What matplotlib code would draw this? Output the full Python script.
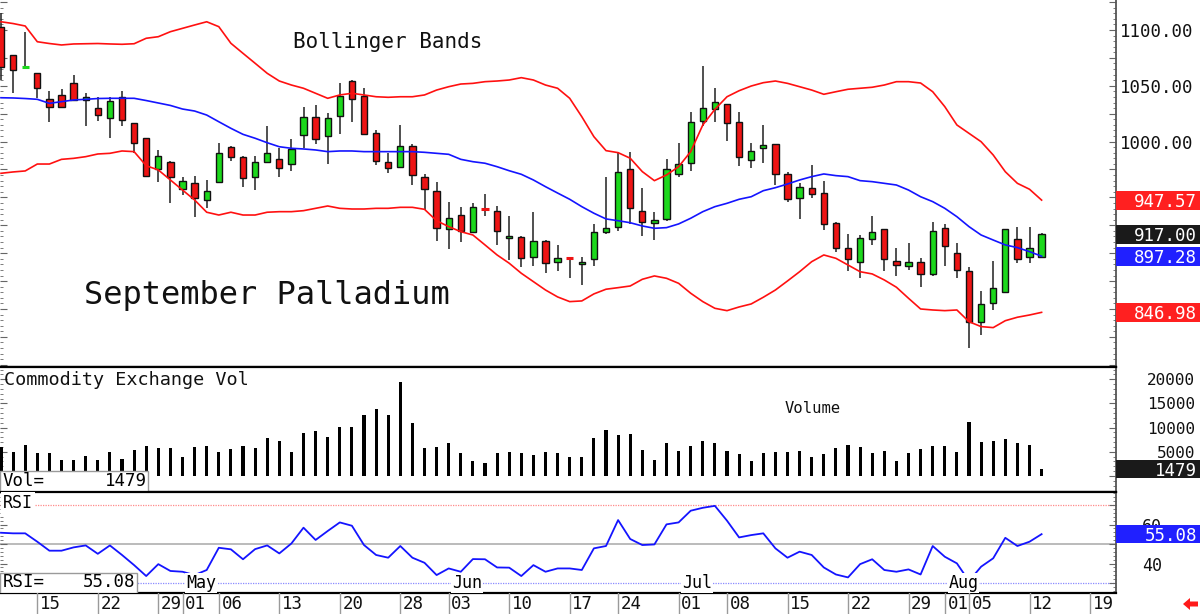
import numpy as np
import pandas as pd
import matplotlib
matplotlib.use("Agg")
import matplotlib.pyplot as plt
from matplotlib.patches import Rectangle, Polygon
from matplotlib.ticker import MultipleLocator

# ---------------- data (September Palladium, daily) ----------------
first_day = "2024-04-10"
last_axis_day = "2024-08-19"
holidays = ["2024-05-27", "2024-06-19", "2024-07-04"]

opens = [1102.7, 1077.6, 1066.0, 1061.2, 1037.9, 1041.5, 1052.2, 1037.3, 1029.8, 1020.9,
         1040.2, 1016.9, 1003.0, 975.2, 982.0, 957.3, 963.2, 947.7, 963.5, 995.4,
         986.5, 968.5, 981.5, 984.7, 979.7, 1005.9, 1021.8, 1005.0, 1022.9, 1054.3,
         1041.1, 1008.0, 982.0, 977.5, 996.0, 968.0, 956.0, 921.4, 934.2, 919.3,
         940.0, 938.1, 913.4, 914.8, 896.3, 910.9, 892.4, 896.0, 890.0, 894.5,
         919.3, 923.2, 975.2, 938.1, 926.7, 930.4, 971.0, 980.6, 1018.5, 1029.0,
         1033.4, 1017.3, 983.5, 994.0, 997.6, 971.0, 949.2, 958.2, 953.7, 926.8,
         905.0, 892.4, 912.7, 921.4, 893.3, 888.8, 892.4, 881.0, 922.3, 900.5,
         884.3, 838.0, 855.0, 865.0, 912.5, 897.0, 897.0]
highs = [1115.0, 1077.6, 1097.9, 1061.5, 1045.6, 1046.9, 1059.7, 1043.3, 1039.7, 1040.2,
         1045.6, 1017.0, 1003.5, 992.5, 982.5, 968.0, 969.4, 965.6, 998.5, 996.0,
         987.0, 987.1, 1014.0, 994.0, 1002.0, 1030.7, 1032.8, 1025.4, 1052.2, 1055.2,
         1047.8, 1010.0, 989.5, 1014.9, 997.8, 971.0, 964.0, 946.0, 941.7, 945.3,
         953.0, 942.6, 933.3, 915.0, 937.2, 911.5, 907.3, 896.5, 897.0, 926.0,
         968.5, 990.4, 990.4, 958.7, 936.7, 984.0, 998.5, 1026.3, 1068.0, 1047.8,
         1034.0, 1026.3, 999.0, 1014.9, 998.0, 973.0, 962.6, 979.0, 964.7, 928.3,
         917.2, 916.3, 933.3, 922.0, 905.0, 908.8, 895.4, 928.3, 925.9, 908.8,
         887.9, 866.0, 893.0, 922.0, 923.8, 923.2, 918.0]
lows = [1055.0, 1043.5, 1066.0, 1038.8, 1017.8, 1030.0, 1037.0, 1014.0, 1018.7, 1003.0,
        1014.0, 989.5, 968.0, 964.0, 945.3, 952.2, 932.7, 940.2, 963.0, 982.6,
        959.6, 956.6, 981.0, 968.5, 974.0, 994.0, 997.8, 980.0, 1006.8, 1017.8,
        1006.0, 979.0, 971.6, 977.0, 961.1, 938.7, 911.2, 903.5, 910.3, 918.0,
        933.0, 907.3, 894.0, 887.9, 888.8, 882.0, 884.3, 877.5, 871.5, 888.8,
        917.0, 920.0, 926.0, 915.7, 911.8, 929.0, 968.0, 974.0, 1014.0, 1017.3,
        1000.8, 978.4, 976.0, 981.0, 961.1, 946.0, 930.4, 949.2, 920.8, 900.8,
        884.3, 877.5, 907.3, 884.3, 879.6, 885.0, 869.4, 880.0, 888.5, 878.0,
        814.8, 826.7, 849.0, 864.0, 891.0, 891.5, 897.0]
closes = [1066.8, 1064.2, 1067.0, 1047.8, 1030.7, 1030.7, 1037.3, 1039.7, 1023.8, 1036.6,
          1019.4, 999.0, 969.2, 987.1, 968.5, 965.0, 949.2, 956.0, 990.0, 985.9,
          967.1, 982.0, 989.5, 976.7, 993.1, 1022.3, 1002.0, 1020.9, 1041.1, 1038.2,
          1006.8, 982.9, 976.0, 996.0, 970.0, 957.5, 922.3, 931.3, 920.2, 941.1,
          939.5, 919.9, 915.7, 895.4, 910.9, 891.5, 895.4, 895.5, 892.4, 918.7,
          922.3, 973.0, 940.2, 928.3, 929.7, 975.2, 980.0, 1017.3, 1029.8, 1035.2,
          1016.4, 985.9, 991.9, 997.0, 971.0, 948.6, 959.0, 953.0, 925.9, 904.4,
          894.5, 913.4, 918.7, 894.5, 889.4, 891.8, 881.0, 920.2, 906.5, 885.0,
          838.0, 854.2, 868.5, 921.7, 894.8, 904.4, 917.0]

bb_upper = [1107.4, 1105.8, 1103.6, 1089.5, 1087.9, 1086.6, 1087.5, 1087.7, 1087.9, 1087.5,
            1087.2, 1087.7, 1092.6, 1094.0, 1098.5, 1101.5, 1104.5, 1107.4, 1103.0, 1088.1,
            1079.1, 1070.2, 1061.2, 1054.3, 1050.7, 1047.8, 1043.3, 1038.8, 1041.8, 1043.3,
            1041.8, 1040.2, 1039.7, 1040.2, 1040.2, 1041.8, 1046.2, 1049.2, 1051.6, 1052.2,
            1053.7, 1054.3, 1055.2, 1057.3, 1055.2, 1050.7, 1047.8, 1038.8, 1022.3, 1004.4,
            991.9, 990.1, 985.1, 973.1, 965.0, 970.1, 977.5, 991.0, 1014.9, 1028.9,
            1040.2, 1045.6, 1049.8, 1052.8, 1054.3, 1052.2, 1049.2, 1046.2, 1042.4, 1044.7,
            1046.9, 1047.8, 1048.7, 1050.7, 1053.7, 1053.7, 1052.5, 1044.7, 1031.3, 1014.9,
            1007.4, 999.9, 988.0, 973.0, 962.6, 957.3, 947.57]
bb_middle = [1039.3, 1039.1, 1038.6, 1037.9, 1034.3, 1035.8, 1037.3, 1037.9, 1038.6, 1038.8,
             1038.8, 1038.8, 1036.8, 1034.6, 1032.4, 1029.2, 1027.4, 1023.8, 1017.8, 1011.9,
             1006.5, 1003.0, 999.0, 995.4, 994.0, 993.4, 992.5, 991.0, 991.6, 991.6,
             991.0, 991.0, 991.0, 991.0, 991.0, 990.4, 989.5, 988.6, 984.1, 982.0,
             980.6, 977.5, 973.9, 970.7, 965.6, 959.6, 953.9, 948.3, 941.7, 935.8,
             930.7, 929.1, 927.3, 924.4, 922.3, 922.9, 926.2, 931.3, 937.2, 941.7,
             944.7, 948.3, 950.6, 956.0, 958.7, 962.0, 965.6, 968.6, 971.0, 969.5,
             968.6, 965.0, 964.1, 962.6, 961.1, 956.6, 950.6, 946.2, 940.2, 932.7,
             923.8, 916.3, 911.8, 907.4, 905.0, 901.4, 897.28]
bb_lower = [971.6, 972.8, 973.7, 979.9, 979.9, 984.1, 985.0, 986.5, 988.9, 989.5,
            991.6, 991.0, 978.4, 974.6, 965.6, 956.6, 947.7, 936.7, 934.2, 936.7,
            934.2, 934.2, 936.7, 937.2, 937.2, 938.1, 940.2, 942.3, 940.2, 939.6,
            939.6, 940.2, 940.2, 941.1, 941.1, 939.3, 929.1, 923.8, 919.3, 916.3,
            907.4, 898.4, 891.0, 882.0, 874.5, 867.0, 860.8, 856.6, 857.2, 863.5,
            867.7, 869.1, 870.6, 876.6, 879.6, 877.5, 873.0, 864.1, 856.6, 850.6,
            848.5, 851.8, 854.5, 860.5, 867.0, 875.1, 883.4, 892.4, 898.4, 895.4,
            889.4, 883.4, 881.4, 876.0, 869.5, 859.6, 850.0, 849.1, 848.5, 849.1,
            838.6, 834.2, 833.3, 839.5, 842.6, 844.6, 846.98]

volume = [6050, 5000, 6400, 4700, 4700, 3400, 3300, 4100, 3300, 5000,
          3500, 5400, 6300, 5700, 5700, 4000, 6050, 6300, 5000, 5500,
          6300, 5700, 7900, 7300, 5000, 8800, 9200, 8100, 10200, 10100,
          12600, 13800, 12600, 19400, 10900, 5700, 6050, 6750, 4800, 3000,
          2600, 4700, 4900, 4700, 4300, 4900, 4800, 4000, 3900, 7900,
          9600, 8500, 8600, 5400, 3300, 6900, 5200, 6300, 7300, 6750,
          5200, 4500, 3100, 4700, 5000, 4900, 5200, 3900, 4500, 5700,
          6500, 5900, 4700, 5200, 3200, 4700, 5500, 6200, 6200, 4900,
          11100, 7100, 7300, 7600, 6750, 6500, 1479]

rsi = [55.8, 55.5, 55.5, 51.2, 46.6, 46.6, 48.3, 49.3, 45.0, 49.3,
       44.4, 39.2, 33.6, 39.7, 36.2, 35.8, 34.1, 36.7, 48.1, 47.3,
       42.2, 47.4, 49.3, 45.2, 50.3, 58.4, 52.1, 56.7, 61.1, 59.4,
       49.5, 44.4, 43.0, 49.0, 43.0, 40.4, 34.1, 37.5, 35.8, 42.3,
       42.2, 38.0, 37.9, 33.6, 39.2, 35.8, 37.5, 37.5, 36.7, 47.8,
       49.0, 62.3, 52.6, 49.5, 49.8, 60.1, 61.1, 67.1, 68.6, 69.6,
       62.0, 53.4, 54.6, 55.5, 47.8, 43.0, 46.1, 44.4, 38.0, 34.4,
       32.9, 39.7, 42.2, 36.7, 35.8, 37.0, 34.4, 49.0, 43.5, 40.1,
       31.0, 38.4, 42.7, 53.2, 49.0, 51.2, 55.08]

price_ticks = [1100, 1050, 1000]
volume_ticks = [5000, 10000, 15000, 20000]
rsi_ticks = [40, 60]
rsi_levels = [70, 50, 30]
month_names = ["Jan", "Feb", "Mar", "Apr", "May", "Jun", "Jul", "Aug", "Sep", "Oct", "Nov", "Dec"]

# ---------------- calendar axis ----------------
days = pd.bdate_range(first_day, last_axis_day)
days = days[~days.isin(pd.to_datetime(holidays))]
tick_pos, month_pos = [], []
for i in range(1, len(days)):
    d, p = days[i], days[i - 1]
    if d.isocalendar().week != p.isocalendar().week or d.month != p.month:
        tick_pos.append(i)
    if d.month != p.month:
        month_pos.append(i)
tick_labels = [days[i].strftime("%d") for i in tick_pos]

# ---------------- styling ----------------
MONO = "DejaVu Sans Mono"
GREEN, RED, BLUE = "#1cd81c", "#ee1414", "#1414ff"
W, H = 1200, 614
PANEL_W = 1116
STEP = 12.1

fig = plt.figure(figsize=(W / 100, H / 100), dpi=100)


def frac_box(left, top, width, height):
    return [left / W, 1 - (top + height) / H, width / W, height / H]


ax_p = fig.add_axes(frac_box(0, 0, PANEL_W, 367))
ax_v = fig.add_axes(frac_box(0, 367, PANEL_W, 125))
ax_r = fig.add_axes(frac_box(0, 492, PANEL_W, 101))
ax_d = fig.add_axes(frac_box(0, 593, PANEL_W, 21))
right_specs = [(0, 367), (367, 125), (492, 101)]
ax_pR, ax_vR, ax_rR = [fig.add_axes(frac_box(PANEL_W, t, W - PANEL_W, h)) for t, h in right_specs]

xlim = (-1 / STEP, (PANEL_W - 1) / STEP)
ax_p.set_ylim(798.0, 1126.9)
ax_v.set_ylim(-3306, 22521)
ax_r.set_ylim(24.9, 76.7)

for ax, maj, mnr in ((ax_p, 25, 5), (ax_v, 5000, 1000), (ax_r, 10, 2)):
    ax.set_xlim(xlim)
    ax.set_xticks([])
    ax.yaxis.set_major_locator(MultipleLocator(maj))
    ax.yaxis.set_minor_locator(MultipleLocator(mnr))
    ax.spines["left"].set_visible(False)
    ax.spines["right"].set_color("#555555")
    ax.spines["right"].set_linewidth(1.3)
    for s in ("top", "bottom"):
        ax.spines[s].set_color("black")
        ax.spines[s].set_linewidth(1.6)
    ax.tick_params(axis="y", which="both", direction="in", left=True, right=True,
                   labelleft=False, labelright=False, color="#666666")
    ax.tick_params(axis="y", which="major", length=5, width=0.8)
    ax.tick_params(axis="y", which="minor", length=2.5, width=0.6)
ax_p.spines["top"].set_visible(False)

# ---------------- price panel ----------------
n = len(closes)
x = np.arange(n)
ax_p.vlines(x, lows, highs, color="#202020", lw=1.1, zorder=2)
for i in range(n):
    o, c = opens[i], closes[i]
    col = GREEN if c >= o else RED
    if abs(c - o) < 1.2:
        ax_p.hlines((o + c) / 2, i - 0.3, i + 0.3, color=col, lw=2.2, zorder=3)
    else:
        ax_p.add_patch(Rectangle((i - 0.26, min(o, c)), 0.52, abs(c - o),
                                 facecolor=col, edgecolor="#111111", lw=1.0, zorder=3))
ax_p.plot(x, bb_upper, color="#ff1010", lw=1.2, zorder=4)
ax_p.plot(x, bb_lower, color="#ff1010", lw=1.2, zorder=4)
ax_p.plot(x, bb_middle, color=BLUE, lw=1.2, zorder=4)

ax_p.text(293 / PANEL_W, 1 - 48.5 / 367, "Bollinger Bands", transform=ax_p.transAxes,
          ha="left", va="baseline", fontsize=15, family=MONO, color="#111111")
ax_p.text(84 / PANEL_W, 1 - 303.5 / 367, "September Palladium", transform=ax_p.transAxes,
          ha="left", va="baseline", fontsize=23, family=MONO, color="#111111")

# ---------------- volume panel ----------------
ax_v.bar(x, volume, width=0.25, color="black", zorder=2)
ax_v.text(4 / PANEL_W, 1 - 18 / 125, "Commodity Exchange Vol", transform=ax_v.transAxes,
          ha="left", va="baseline", fontsize=13.3, family=MONO, color="#111111")
ax_v.text(785 / PANEL_W, 1 - 46 / 125, "Volume", transform=ax_v.transAxes,
          ha="left", va="baseline", fontsize=11.2, family=MONO, color="#111111")
ax_v.add_patch(Rectangle((0, 0), 148 / PANEL_W, 21 / 125, transform=ax_v.transAxes,
                         facecolor="white", edgecolor="#9a9a9a", lw=1.0, zorder=5))
ax_v.text(3 / PANEL_W, 6.5 / 125, "Vol=", transform=ax_v.transAxes, ha="left",
          va="baseline", fontsize=12.5, family=MONO, zorder=6)
ax_v.text(147 / PANEL_W, 6.5 / 125, f"{volume[-1]}", transform=ax_v.transAxes, ha="right",
          va="baseline", fontsize=12.5, family=MONO, zorder=6)

# ---------------- RSI panel ----------------
level_colors = {70: "#ff8a8a", 50: "#a8a8a8", 30: "#8a8aff"}
for lv in rsi_levels:
    ax_r.axhline(lv, color=level_colors[lv], lw=0.9 if lv != 50 else 1.1,
                 ls=(0, (1, 1)) if lv != 50 else "-", zorder=1)
ax_r.plot(x, rsi, color=BLUE, lw=1.3, zorder=3)
ax_r.text(3 / PANEL_W, 1 - 16 / 101, "RSI", transform=ax_r.transAxes, ha="left",
          va="baseline", fontsize=12, family=MONO, zorder=6,
          bbox=dict(facecolor="white", edgecolor="none", pad=1.5))
ax_r.add_patch(Rectangle((0, 0), 137 / PANEL_W, 20 / 101, transform=ax_r.transAxes,
                         facecolor="white", edgecolor="#9a9a9a", lw=1.0, zorder=5))
ax_r.text(3 / PANEL_W, 6 / 101, "RSI=", transform=ax_r.transAxes, ha="left",
          va="baseline", fontsize=12.5, family=MONO, zorder=6)
ax_r.text(135 / PANEL_W, 6 / 101, f"{rsi[-1]:.2f}", transform=ax_r.transAxes, ha="right",
          va="baseline", fontsize=12.5, family=MONO, zorder=6)
for mp in month_pos:
    ax_r.text(mp + 0.3, 30, month_names[days[mp].month - 1], ha="left", va="center",
              fontsize=12, family=MONO, zorder=4,
              bbox=dict(facecolor="white", edgecolor="none", pad=0.6))

# ---------------- date strip ----------------
ax_d.set_xlim(xlim)
ax_d.set_ylim(0, 1)
ax_d.axis("off")
for tp, tl in zip(tick_pos, tick_labels):
    ax_d.axvline(tp, color="#9a9a9a", lw=1.0)
    ax_d.text(tp + 0.22, 0.46, tl, ha="left", va="center", fontsize=12.5, family=MONO,
              color="#111111")

# ---------------- right-hand scales ----------------
for axR, axL in ((ax_pR, ax_p), (ax_vR, ax_v), (ax_rR, ax_r)):
    axR.set_xlim(0, W - PANEL_W)
    axR.set_ylim(axL.get_ylim())
    axR.axis("off")


def value_box(axR, panel_h, value, color, text, fs, h_px=19):
    lo, hi = axR.get_ylim()
    h = h_px * (hi - lo) / panel_h
    axR.add_patch(Rectangle((0, value - h / 2), W - PANEL_W, h, facecolor=color,
                            edgecolor="none", zorder=3, clip_on=False))
    axR.text(81, value, text, ha="right", va="center_baseline", color="white",
             fontsize=fs, family=MONO, zorder=4)


for v in price_ticks:
    ax_pR.text(4, v, f"{v:.2f}", ha="left", va="center_baseline", fontsize=12.5,
               family=MONO, color="#111111", zorder=2)
value_box(ax_pR, 367, bb_upper[-1], "#ff2020", f"{bb_upper[-1]:.2f}", 12.5)
value_box(ax_pR, 367, closes[-1], "#1a1a1a", f"{closes[-1]:.2f}", 12.5)
value_box(ax_pR, 367, bb_middle[-1], "#2020ff", f"{bb_middle[-1]:.2f}", 12.5)
value_box(ax_pR, 367, bb_lower[-1], "#ff2020", f"{bb_lower[-1]:.2f}", 12.5)

for v in volume_ticks:
    ax_vR.text(79, v, f"{v}", ha="right", va="center_baseline", fontsize=11.5,
               family=MONO, color="#111111", zorder=2)
value_box(ax_vR, 125, volume[-1], "#1a1a1a", f"{volume[-1]}", 12.5, h_px=18)

for v in rsi_ticks:
    ax_rR.text(26, v, f"{v}", ha="left", va="center_baseline", fontsize=12,
               family=MONO, color="#111111", zorder=2)
value_box(ax_rR, 101, rsi[-1], "#2020ff", f"{rsi[-1]:.2f}", 12.5, h_px=18)

# small red scroll arrow, bottom right
arrow_px = [(1183, 604), (1190, 598), (1190, 601.5), (1198, 601.5),
            (1198, 606.5), (1190, 606.5), (1190, 610)]
fig.add_artist(Polygon([(px / W, 1 - py / H) for px, py in arrow_px], closed=True,
                       facecolor="#ff1a1a", edgecolor="none", transform=fig.transFigure))

fig.savefig("out.png", dpi=100, facecolor="white")
